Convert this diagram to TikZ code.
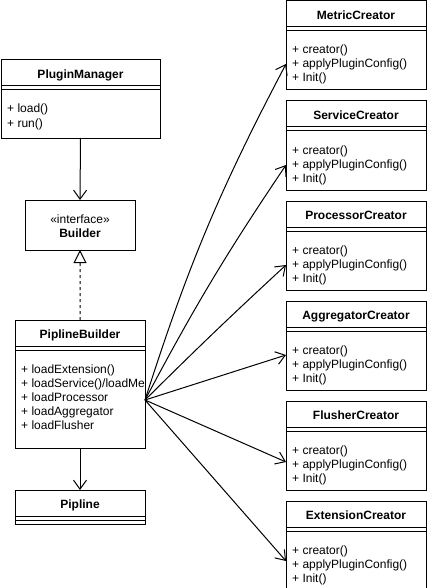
\documentclass[tikz,border=0pt]{standalone}
\usepackage{fontspec}
\setmainfont{Liberation Sans}
\usetikzlibrary{arrows.meta}
\newcommand\umlclass[6]{% name, x, y, w, h, title
  \node[box,minimum width=#4bp,minimum height=#5bp] (#1) at (#2,#3) {};
  \draw[thin1] ([yshift=-26bp]#1.north west) -- ([yshift=-26bp]#1.north east);
  \draw[thin1] ([yshift=-30bp]#1.north west) -- ([yshift=-30bp]#1.north east);
  \node[ttl] (#1-t) at ([yshift=-18.5bp]#1.north) {#6};
}
\newcommand\umlmembers[2]{% name, list
  \foreach \t [count=\i, evaluate=\i as \yy using -(39+14*\i)] in {#2} {
    \node[mem] (#1-m\i) at ([xshift=6bp,yshift=\yy bp]#1.north west) {\t};
  }
}
\begin{document}
\begin{tikzpicture}[x=1bp,y=-1bp,
  box/.style={draw,line width=1bp,inner sep=0,outer sep=0,anchor=north west},
  thin1/.style={line width=1bp},
  ttl/.style={font=\fontsize{12bp}{14bp}\selectfont\bfseries,anchor=base,inner sep=0},
  reg/.style={font=\fontsize{12bp}{14bp}\selectfont,anchor=base,inner sep=0},
  mem/.style={font=\fontsize{12bp}{14bp}\selectfont,anchor=base west,inner sep=0},
  conn/.style={line width=1bp,-{Straight Barb[length=9bp,width=13bp]}},
  realize/.style={line width=1bp,dash pattern=on 3bp off 3bp,-{Triangle[open,length=13bp,width=13bp]}}
]
\useasboundingbox (0,0) rectangle (427,588);
\clip (0,0) rectangle (427,588);

% left column
\umlclass{pm}{1}{60}{159}{78}{PluginManager}
\umlmembers{pm}{+ load(), + run()}

\node[box,minimum width=110bp,minimum height=50bp] (builder) at (25,200) {};
\node[reg] (builder-s) at ([yshift=-23bp]builder.north) {«interface»};
\node[ttl] (builder-t) at ([yshift=-37.5bp]builder.north) {Builder};

\umlclass{pb}{15}{320}{130}{128}{PiplineBuilder}
\begin{scope}
  \clip (pb.south west) rectangle (pb.north east);
  \umlmembers{pb}{+ loadExtension(), + loadService()/loadMe, + loadProcessor, + loadAggregator, + loadFlusher}
\end{scope}

\umlclass{pipline}{15}{490}{130}{34}{Pipline}

% right column
\umlclass{metric}{286}{1}{140}{89}{MetricCreator}
\umlclass{service}{286}{101}{140}{89}{ServiceCreator}
\umlclass{processor}{286}{201}{140}{89}{ProcessorCreator}
\umlclass{aggregator}{286}{301}{140}{89}{AggregatorCreator}
\umlclass{flusher}{286}{401}{140}{89}{FlusherCreator}
\umlclass{extension}{286}{501}{140}{89}{ExtensionCreator}
\foreach \c in {metric,service,processor,aggregator,flusher,extension}{
  \umlmembers{\c}{+ creator(), + applyPluginConfig(), + Init()}
}

% connectors
\draw[conn] (pm.south) -- (builder.north);
\draw[realize] (pb.north) -- (builder.south);
\draw[conn] (pb.south) -- (pipline.north);

\draw[conn] ([yshift=-16bp]pb.east) to[bend left=5] ([yshift=-18.5bp]metric.west);
\draw[conn] ([yshift=-16bp]pb.east) to[bend left=3] ([yshift=-19.5bp]service.west);
\draw[conn] ([yshift=-16bp]pb.east) to[bend left=1] ([yshift=-19.5bp]processor.west);
\draw[conn] ([yshift=-16bp]pb.east) -- ([yshift=-9.5bp]aggregator.west);
\draw[conn] ([yshift=-16bp]pb.east) -- ([yshift=-16.5bp]flusher.west);
\draw[conn] ([yshift=-16bp]pb.east) -- ([yshift=-15.5bp]extension.west);
\end{tikzpicture}
\end{document}
